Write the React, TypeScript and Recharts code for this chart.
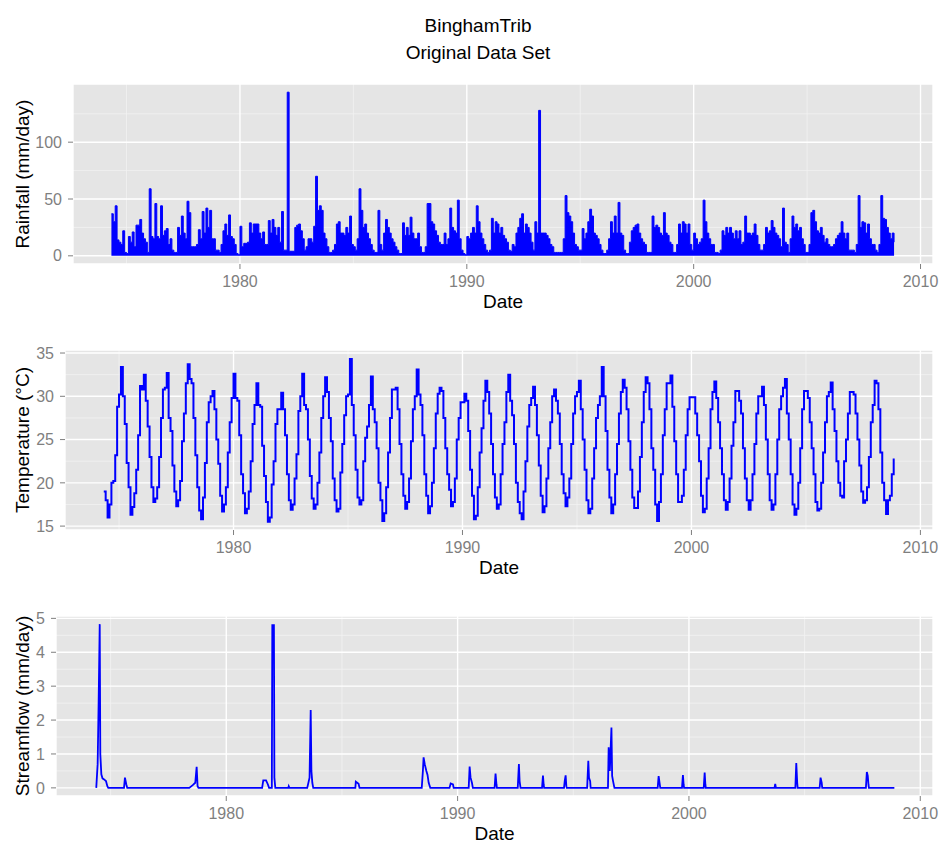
import React from 'react';
import { ComposedChart, Area, Line, XAxis, YAxis, CartesianGrid } from 'recharts';

const FONT = '"Liberation Sans", Arial, Helvetica, sans-serif';

// monthly series run from May 1974 to Nov 2008
const START_YEAR = 1974;
const START_MONTH = 5;

// rainfall, mm/day (monthly peak)
const rainfall = [
  37, 30, 44, 14, 12, 10, 22, 3, // 1974 May-Dec
  2, 17, 12, 21, 8, 27, 27, 32, 20, 15, 12, 3,
  59, 17, 15, 46, 17, 15, 44, 18, 22, 24, 10, 15,
  5, 3, 3, 25, 18, 35, 20, 15, 48, 38, 8, 8,
  8, 10, 23, 15, 39, 20, 42, 25, 40, 15, 15, 5,
  5, 3, 10, 22, 28, 18, 36, 17, 15, 10, 2, 1,
  26, 8, 11, 11, 12, 29, 20, 28, 28, 28, 20, 15, // 1980
  21, 10, 10, 31, 20, 32, 25, 18, 25, 12, 39, 5,
  5, 144, 4, 4, 4, 25, 27, 28, 22, 15, 5, 8,
  15, 15, 12, 26, 70, 40, 44, 40, 20, 15, 8, 3,
  3, 5, 10, 28, 30, 20, 20, 18, 25, 20, 35, 10,
  8, 5, 15, 59, 40, 25, 28, 20, 15, 10, 5, 3,
  3, 40, 10, 5, 20, 32, 25, 20, 15, 12, 8, 5,
  2, 2, 29, 18, 25, 18, 34, 20, 15, 15, 20, 8,
  3, 3, 8, 46, 46, 30, 28, 22, 18, 12, 10, 10,
  20, 10, 15, 42, 25, 22, 20, 49, 15, 5, 2, 1,
  17, 15, 20, 25, 20, 44, 30, 20, 15, 10, 5, 3, // 1990
  5, 33, 20, 30, 28, 20, 25, 18, 15, 12, 5, 4,
  10, 8, 20, 25, 33, 37, 20, 28, 25, 20, 12, 5,
  30, 20, 128, 20, 20, 20, 18, 15, 10, 8, 3, 3,
  3, 3, 3, 15, 53, 38, 35, 30, 20, 10, 8, 5,
  5, 24, 15, 20, 30, 41, 35, 20, 18, 15, 10, 5,
  2, 2, 5, 15, 30, 20, 35, 20, 47, 20, 18, 5,
  2, 2, 12, 22, 25, 27, 28, 20, 15, 12, 10, 3,
  3, 3, 35, 25, 27, 25, 20, 18, 38, 20, 18, 12,
  10, 3, 3, 10, 28, 20, 30, 28, 20, 28, 10, 5,
  20, 15, 10, 12, 15, 49, 30, 20, 15, 10, 10, 3, // 2000
  3, 2, 5, 22, 18, 25, 20, 25, 20, 15, 22, 15,
  22, 10, 12, 35, 20, 20, 18, 20, 28, 18, 10, 5,
  5, 10, 25, 20, 22, 31, 25, 20, 18, 15, 8, 42,
  12, 10, 3, 15, 35, 25, 28, 22, 25, 15, 10, 3,
  3, 10, 38, 40, 30, 22, 20, 25, 18, 12, 15, 10,
  8, 8, 10, 15, 18, 20, 30, 20, 15, 20, 5, 5,
  5, 3, 10, 53, 25, 30, 29, 20, 28, 15, 10, 10,
  5, 3, 10, 53, 33, 32, 25, 20, 15, 20, 12, // 2008 Jan-Nov
];

// temperature, deg C
const temperature = [
  19.0, 18.0, 16.0, 17.5, 20.0, 20.2, 23.2, 28.8, // 1974 May-Dec
  30.2, 33.4, 30.0, 26.8, 22.3, 19.5, 16.3, 17.2, 18.8, 21.5, 25.5, 31.2,
  30.8, 32.5, 29.5, 26.5, 23.0, 19.5, 17.8, 18.2, 19.5, 23.0, 27.5, 30.8,
  31.0, 32.7, 27.5, 26.0, 22.0, 19.0, 17.3, 18.0, 20.2, 24.8, 28.0, 31.5,
  33.7, 32.0, 31.5, 27.5, 23.2, 19.5, 16.8, 15.8, 18.3, 22.3, 27.0, 29.3,
  30.0, 30.6, 28.5, 25.0, 22.2, 18.5, 16.7, 17.5, 19.5, 23.5, 27.0, 29.8,
  32.6, 29.8, 29.5, 25.5, 21.0, 18.8, 16.5, 17.0, 19.0, 22.5, 26.8, 29.0, // 1980
  31.5, 29.0, 28.8, 24.3, 20.8, 17.8, 15.5, 16.0, 19.8, 22.5, 26.8, 28.5,
  28.5, 30.4, 28.5, 25.5, 21.0, 18.0, 16.9, 17.5, 20.5, 23.3, 28.3, 30.0,
  32.6, 29.0, 28.5, 25.0, 20.8, 18.2, 17.0, 17.5, 20.0, 23.5, 27.5, 30.0,
  32.2, 30.5, 27.5, 24.8, 20.5, 18.0, 16.7, 17.0, 21.2, 24.5, 27.8, 30.0,
  30.2, 34.3, 29.0, 25.5, 21.5, 18.3, 17.5, 18.0, 22.5, 25.2, 26.5, 29.0,
  32.3, 28.5, 27.0, 24.0, 20.0, 18.0, 15.6, 16.5, 19.5, 23.5, 27.5, 30.8,
  30.8, 31.0, 28.5, 24.5, 21.0, 18.5, 17.0, 17.8, 20.5, 24.8, 28.5, 30.0,
  33.1, 30.2, 29.0, 25.5, 21.0, 18.5, 16.5, 17.3, 20.0, 24.0, 28.0, 30.3,
  31.0, 30.6, 27.5, 24.0, 21.0, 19.2, 17.3, 17.8, 20.5, 25.0, 27.5, 29.3,
  29.3, 30.3, 29.5, 26.0, 21.5, 18.5, 15.8, 16.2, 19.5, 23.5, 26.3, 29.5, // 1990
  31.8, 30.5, 28.0, 24.5, 21.0, 18.3, 17.0, 17.5, 21.0, 24.5, 27.0, 30.5,
  32.5, 29.5, 27.8, 24.5, 20.0, 17.8, 16.5, 15.8, 19.0, 22.5, 26.5, 29.0,
  29.8, 31.1, 29.0, 25.5, 22.0, 18.5, 16.6, 17.3, 20.5, 24.0, 27.0, 30.0,
  30.8, 29.5, 28.0, 24.5, 21.0, 18.8, 17.3, 18.3, 20.5, 24.5, 28.0, 30.0,
  30.5, 31.8, 28.5, 25.0, 21.5, 18.0, 16.5, 17.0, 20.5, 24.0, 27.5, 29.0,
  30.0, 33.4, 30.0, 26.0, 21.5, 18.3, 16.5, 17.5, 21.0, 24.5, 28.0, 30.5,
  31.9, 31.0, 28.5, 24.8, 21.5, 18.3, 17.1, 17.1, 19.0, 23.0, 27.0, 30.5,
  32.2, 31.5, 28.5, 24.0, 21.5, 17.5, 15.6, 17.8, 21.0, 25.5, 28.5, 31.5,
  31.5, 32.4, 28.8, 24.8, 21.0, 17.8, 17.8, 18.5, 21.5, 25.5, 28.5, 29.9,
  29.9, 29.9, 28.0, 25.5, 22.5, 18.5, 16.6, 17.0, 20.5, 24.0, 28.5, 30.5, // 2000
  31.7, 29.8, 27.0, 24.0, 21.0, 18.0, 16.9, 17.8, 20.5, 24.3, 27.0, 30.6,
  30.6, 29.5, 28.0, 24.0, 20.5, 18.0, 16.9, 18.0, 21.0, 24.5, 28.0, 30.0,
  30.0, 31.1, 29.0, 25.0, 21.0, 18.0, 16.9, 17.5, 21.0, 25.0, 28.5, 30.0,
  31.0, 32.0, 28.0, 25.0, 21.0, 17.5, 16.3, 17.0, 20.0, 24.0, 28.5, 30.6,
  30.6, 29.8, 27.0, 24.0, 21.0, 17.8, 16.8, 17.0, 20.0, 23.5, 27.0, 30.0,
  30.5, 31.6, 28.5, 26.0, 22.5, 20.0, 18.5, 18.3, 22.5, 25.0, 28.0, 30.5,
  30.5, 30.2, 28.0, 25.0, 22.0, 19.0, 17.7, 18.0, 19.5, 23.0, 27.0, 29.0,
  31.8, 31.5, 28.5, 23.5, 20.0, 18.0, 16.4, 18.0, 18.5, 21.0, 22.8, // 2008 Jan-Nov
];

// streamflow events, decimal year and mm/day
const flowDates = [
  1974.38, 1974.44, 1974.48, 1974.53, 1974.555, 1974.6, 1974.65, 1974.72, 1974.8, 1974.86, 1974.9,
  1975.58, 1975.62, 1975.68, 1975.72,
  1978.4, 1978.55, 1978.66, 1978.72, 1978.76, 1978.8,
  1981.55, 1981.6, 1981.72, 1981.8, 1981.85,
  1981.97, 1981.99, 1982.06, 1982.08, 1982.12,
  1982.68, 1982.7, 1982.73,
  1983.5, 1983.6, 1983.65, 1983.68, 1983.72, 1983.76,
  1985.58, 1985.6, 1985.72, 1985.76,
  1988.45, 1988.5, 1988.53, 1988.58, 1988.65, 1988.7, 1988.75, 1988.82,
  1989.65, 1989.7, 1989.8, 1989.83,
  1990.48, 1990.52, 1990.56, 1990.62, 1990.66,
  1991.6, 1991.64, 1991.68, 1991.7,
  1992.6, 1992.65, 1992.68, 1992.72,
  1993.65, 1993.69, 1993.72, 1993.74,
  1994.6, 1994.63, 1994.67, 1994.7, 1994.72,
  1995.6, 1995.65, 1995.68, 1995.73, 1995.75,
  1996.5, 1996.53, 1996.58, 1996.65, 1996.68, 1996.72, 1996.78,
  1998.65, 1998.69, 1998.73, 1998.76,
  1999.7, 1999.74, 1999.77, 1999.79,
  2000.64, 2000.68, 2000.71, 2000.73,
  2003.7, 2003.73, 2003.76,
  2004.6, 2004.64, 2004.68, 2004.7,
  2005.65, 2005.69, 2005.74, 2005.76,
  2007.65, 2007.69, 2007.73, 2007.76, 2007.78,
  2008.88,
];
const flowValues = [
  0, 0.7, 2.4, 4.83, 1.0, 0.4, 0.28, 0.25, 0.2, 0.05, 0,
  0, 0.3, 0.1, 0,
  0, 0.08, 0.15, 0.62, 0.05, 0,
  0, 0.22, 0.22, 0.1, 0,
  0, 4.8, 4.8, 0.3, 0,
  0, 0.05, 0,
  0, 0.3, 2.3, 0.5, 0.15, 0,
  0, 0.18, 0.12, 0,
  0, 0.5, 0.9, 0.7, 0.5, 0.38, 0.15, 0,
  0, 0.13, 0.1, 0,
  0, 0.63, 0.3, 0.15, 0,
  0, 0.42, 0.1, 0,
  0, 0.7, 0.2, 0,
  0, 0.36, 0.1, 0,
  0, 0.2, 0.37, 0.05, 0,
  0, 0.8, 0.3, 0.2, 0,
  0, 1.2, 0.5, 1.78, 0.35, 0.2, 0,
  0, 0.35, 0.15, 0,
  0, 0.38, 0.1, 0,
  0, 0.45, 0.1, 0,
  0, 0.12, 0,
  0, 0.73, 0.15, 0,
  0, 0.3, 0.15, 0,
  0, 0.47, 0.35, 0.1, 0,
  0,
];

const yearTicks = [1980, 1990, 2000, 2010];
const yearMinor = [1975, 1985, 1995, 2005];
const rainTicks = [0, 50, 100];
const rainMinor = [25, 75, 125];
const tempTicks = [15, 20, 25, 30, 35];
const tempMinor = [17.5, 22.5, 27.5, 32.5];
const flowTicks = [0, 1, 2, 3, 4, 5];
const flowMinor = [0.5, 1.5, 2.5, 3.5, 4.5];

const X_DOMAIN: [number, number] = [1972.64, 2010.55];

const monthTime = (i: number) => START_YEAR + (START_MONTH - 1 + i) / 12;

const rainData = rainfall.map((v, i) => ({ t: monthTime(i), rain: v }));
const tempData = temperature.map((v, i) => ({ t: monthTime(i), temp: v }));
const flowData = flowDates.map((d, i) => ({ t: d, flow: flowValues[i] }));

const tickStyle = { fill: '#7f7f7f', fontSize: 16, fontFamily: FONT };

function Panel({ top, left, data, yDomain, yTicks, yMinor, children }: any) {
  return (
    <div style={{ position: 'absolute', left: 0, top: top - 10 }}>
      <ComposedChart
        width={939}
        height={226}
        data={data}
        margin={{ top: 10, right: 6, left: 0, bottom: 0 }}
      >
        <CartesianGrid
          fill="#e5e5e5"
          fillOpacity={1}
          stroke="#f2f2f2"
          strokeWidth={0.8}
          horizontalValues={yMinor}
          verticalValues={yearMinor}
        />
        <CartesianGrid stroke="#ffffff" strokeWidth={1.4} />
        <XAxis
          type="number"
          dataKey="t"
          domain={X_DOMAIN}
          ticks={yearTicks}
          interval={0}
          allowDataOverflow
          height={36}
          axisLine={false}
          tickSize={5}
          tickMargin={7}
          tickLine={{ stroke: '#7f7f7f' }}
          tick={tickStyle}
        />
        <YAxis
          type="number"
          domain={yDomain}
          ticks={yTicks}
          interval={0}
          allowDataOverflow
          width={left}
          axisLine={false}
          tickSize={5}
          tickMargin={6}
          tickLine={{ stroke: '#7f7f7f' }}
          tick={tickStyle}
        />
        {children}
      </ComposedChart>
    </div>
  );
}

export default function App() {
  return (
    <div style={{ position: 'absolute', left: 0, top: 0, width: 939, height: 844, background: '#fff' }}>
      <Panel top={84} left={73} data={rainData} yDomain={[-7.2, 151.2]} yTicks={rainTicks} yMinor={rainMinor}>
        <Area
          type="stepAfter"
          dataKey="rain"
          baseValue={0}
          stroke="#0000ff"
          strokeWidth={1}
          fill="#0000ff"
          fillOpacity={1}
          dot={false}
          activeDot={false}
          isAnimationActive={false}
        />
      </Panel>
      <Panel top={350} left={65} data={tempData} yDomain={[14.55, 35.35]} yTicks={tempTicks} yMinor={tempMinor}>
        <Line
          type="stepAfter"
          dataKey="temp"
          stroke="#0000ff"
          strokeWidth={2}
          dot={false}
          activeDot={false}
          isAnimationActive={false}
        />
      </Panel>
      <Panel top={616} left={56} data={flowData} yDomain={[-0.24, 5.07]} yTicks={flowTicks} yMinor={flowMinor}>
        <Line
          type="linear"
          dataKey="flow"
          stroke="#0000ff"
          strokeWidth={1.8}
          dot={false}
          activeDot={false}
          isAnimationActive={false}
        />
      </Panel>
      <svg
        width={939}
        height={844}
        style={{ position: 'absolute', left: 0, top: 0, pointerEvents: 'none' }}
        fontFamily={FONT}
      >
        <text x={478} y={31.5} textAnchor="middle" fontSize={19} fill="#000">BinghamTrib</text>
        <text x={478} y={59} textAnchor="middle" fontSize={19} fill="#000">Original Data Set</text>
        <text x={503} y={308} textAnchor="middle" fontSize={19} fill="#000">Date</text>
        <text x={499} y={574} textAnchor="middle" fontSize={19} fill="#000">Date</text>
        <text x={494.5} y={840} textAnchor="middle" fontSize={19} fill="#000">Date</text>
        <text transform="translate(29,174) rotate(-90)" textAnchor="middle" fontSize={19} fill="#000">Rainfall (mm/day)</text>
        <text transform="translate(29,440) rotate(-90)" textAnchor="middle" fontSize={19} fill="#000">Temperature (°C)</text>
        <text transform="translate(29,706) rotate(-90)" textAnchor="middle" fontSize={19} fill="#000">Streamflow (mm/day)</text>
      </svg>
    </div>
  );
}
